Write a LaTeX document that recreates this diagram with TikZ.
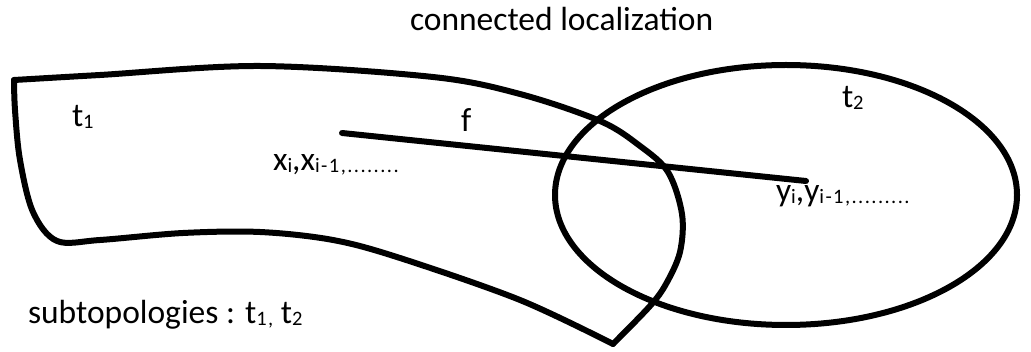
\documentclass[tikz,border=0pt]{standalone}
\usepackage{fontspec}
\setmainfont{Carlito}
\newcommand\sbs[1]{\raisebox{-1.5pt}{\fontsize{20.5}{24}\selectfont\addfontfeatures{LetterSpace=7}#1}}
\begin{document}
\begin{tikzpicture}[x=1pt,y=-1pt,
  outline/.style={line width=6pt,line join=round,line cap=round},
  lbl/.style={anchor=base west,inner sep=0pt,outer sep=0pt,text=black,font=\fontsize{33.5}{40}\selectfont}]
\useasboundingbox[fill=white] (0,0) rectangle (1031,352);
% subtopology t1
\draw[outline] plot[smooth,tension=0.55] coordinates {(14,80) (100,75) (260,66) (433,77) (520,94) (600,121) (640,146) (668,172) (682,214) (680,252) (666,284) (650,306) (613,344)};
\draw[outline] plot[smooth,tension=0.55] coordinates {(613,344) (520,300) (400,258) (333,240) (260,232) (183,233) (100,240) (57,241) (33,212) (20,160) (15,110) (14,80)};
% subtopology t2
\draw[outline] (786,195) ellipse[x radius=231,y radius=130];
% f
\coordinate (fa) at (342,133);
\coordinate (fb) at (806,181);
\draw[outline] (fa) -- (fb);
% labels
\node[lbl] (title) at (410,31) {connected localization};
\node[lbl] (t1) at (72,127) {t\sbs{1}};
\node[lbl] (t2) at (842,108) {t\sbs{2}};
\node[lbl] (f) at (461,132) {f};
\node[lbl] (xs) at (273,171) {x\sbs{i},x\sbs{i-1,........}};
\node[lbl] (ys) at (776,202) {y\sbs{i},y\sbs{i-1,.........}};
\node[lbl] (sub) at (28,324) {subtopologies : t\sbs{1,} t\sbs{2}};
\end{tikzpicture}
\end{document}
